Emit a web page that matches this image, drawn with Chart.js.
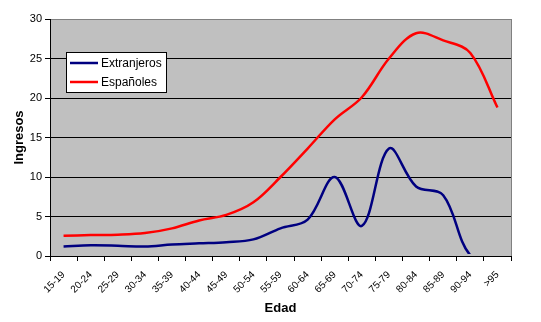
<!DOCTYPE html>
<html>
<head>
<meta charset="utf-8">
<script src="https://cdn.jsdelivr.net/npm/chart.js@4/dist/chart.umd.min.js"></script>
<style>
  html, body { margin: 0; padding: 0; background: #fff; }
  #wrap { width: 541px; height: 322px; }
</style>
</head>
<body>
<div id="wrap"><canvas id="c" width="541" height="322"></canvas></div>
<script>
// Age groups and admissions per group
const categories = ['15-19','20-24','25-29','30-34','35-39','40-44','45-49','50-54','55-59','60-64','65-69','70-74','75-79','80-84','85-89','90-94','>95'];
const extranjeros = [1.2, 1.35, 1.3, 1.2, 1.45, 1.6, 1.75, 2.1, 3.5, 4.6, 10.0, 3.8, 13.6, 8.8, 7.7, 0.1, 0];
const espanoles   = [2.55, 2.65, 2.7, 2.9, 3.5, 4.5, 5.2, 6.8, 10.0, 13.6, 17.3, 20.1, 25.0, 28.2, 27.3, 25.7, 18.8];
const yTicks = [0, 5, 10, 15, 20, 25, 30];

const FONT = '"Liberation Sans", Arial, sans-serif';

// Grey plot background plus the grey right-hand frame
const plotFrame = {
  id: 'plotFrame',
  beforeDatasetsDraw(chart) {
    const a = chart.chartArea, ctx = chart.ctx;
    ctx.save();
    ctx.strokeStyle = '#808080';
    ctx.lineWidth = 1;
    ctx.beginPath();
    ctx.moveTo(Math.round(a.right) + 0.5, a.top);
    ctx.lineTo(Math.round(a.right) + 0.5, a.bottom);
    ctx.stroke();
    ctx.restore();
  },
  beforeDraw(chart) {
    const a = chart.chartArea, ctx = chart.ctx;
    ctx.save();
    ctx.fillStyle = '#C0C0C0';
    ctx.fillRect(a.left, a.top, a.right - a.left, a.bottom - a.top);
    ctx.restore();
  }
};

// Boxed legend sitting inside the plot, upper left
const boxLegend = {
  id: 'boxLegend',
  afterDraw(chart) {
    const ctx = chart.ctx;
    const x = 66.5, y = 52.5, w = 100, h = 40;
    ctx.save();
    ctx.fillStyle = '#fff';
    ctx.fillRect(x, y, w, h);
    ctx.strokeStyle = '#000';
    ctx.lineWidth = 1;
    ctx.strokeRect(x, y, w, h);
    ctx.font = '12px ' + FONT;
    ctx.textBaseline = 'middle';
    chart.data.datasets.forEach((ds, i) => {
      const ly = 63 + i * 19;
      ctx.strokeStyle = ds.borderColor;
      ctx.lineWidth = 2.5;
      ctx.beginPath();
      ctx.moveTo(70, ly);
      ctx.lineTo(98, ly);
      ctx.stroke();
      ctx.fillStyle = '#000';
      ctx.fillText(ds.label, 101, ly + 1);
    });
    ctx.restore();
  }
};

new Chart(document.getElementById('c'), {
  type: 'line',
  data: {
    labels: categories,
    datasets: [
      {
        label: 'Extranjeros',
        data: extranjeros,
        borderColor: '#000080',
        borderWidth: 2.5,
        pointRadius: 0,
        tension: 0.35,
        clip: { left: 5, top: 5, right: 5, bottom: -2 }
      },
      {
        label: 'Españoles',
        data: espanoles,
        borderColor: '#FF0000',
        borderWidth: 2.5,
        pointRadius: 0,
        tension: 0.35
      }
    ]
  },
  options: {
    responsive: false,
    animation: false,
    devicePixelRatio: 1,
    layout: { padding: { top: 19, right: 30, left: 0, bottom: 0 } },
    plugins: {
      legend: { display: false },
      tooltip: { enabled: false },
      title: { display: false }
    },
    scales: {
      x: {
        offset: true,
        grid: {
          offset: true,
          drawOnChartArea: false,
          drawTicks: true,
          tickLength: 5,
          color: '#000'
        },
        border: { color: '#000', width: 1, z: 1 },
        ticks: {
          color: '#000',
          font: { family: FONT, size: 10 },
          maxRotation: 45,
          minRotation: 45,
          autoSkip: false,
          padding: 8
        },
        title: {
          display: true,
          text: 'Edad',
          color: '#000',
          font: { family: FONT, size: 13, weight: 'bold' },
          padding: { top: 0, bottom: 6 }
        },
        afterFit(scale) { scale.height = 66; }
      },
      y: {
        min: 0,
        max: 30,
        afterBuildTicks(scale) { scale.ticks = yTicks.map(v => ({ value: v })); },
        grid: {
          color: ctx => (ctx.tick && ctx.tick.value === 30 ? '#808080' : '#000'),
          tickColor: '#000',
          lineWidth: 1,
          drawTicks: true,
          tickLength: 5
        },
        border: { color: '#000', width: 1, z: 1 },
        ticks: {
          color: '#000',
          font: { family: FONT, size: 11 },
          padding: 3
        },
        title: {
          display: true,
          text: 'Ingresos',
          color: '#000',
          font: { family: FONT, size: 13, weight: 'bold' },
          padding: { top: 12, bottom: 0 }
        },
        afterFit(scale) { scale.width = 50; }
      }
    }
  },
  plugins: [plotFrame, boxLegend]
});
</script>
</body>
</html>
